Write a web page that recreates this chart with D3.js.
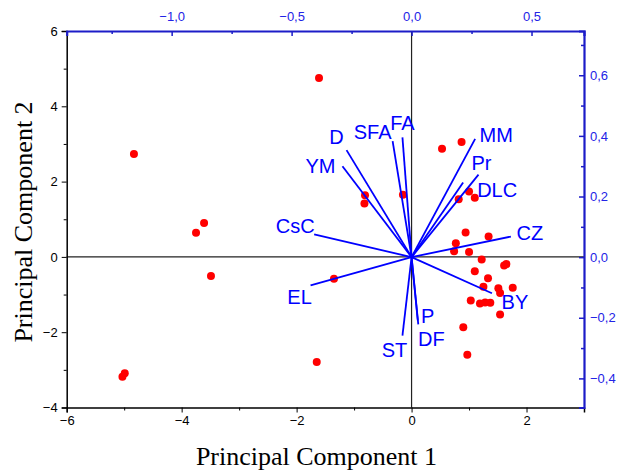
<!DOCTYPE html>
<html>
<head>
<meta charset="utf-8">
<script src="https://cdn.jsdelivr.net/npm/d3@7"></script>
<style>
  body { margin: 0; background: #fff; }
  .tick text { font-family: Arial, "Liberation Sans", sans-serif; font-size: 13px; }
</style>
</head>
<body>
<div id="chart"></div>
<script>
// scores (PC1, PC2)
const scoreX = [-4.83, -3.61, -3.75, -3.49, -4.99, -5.03, -1.61, 0.53, 0.87, -0.81, -0.82, -0.15,
  1.00, 0.82, 1.10, 0.94, 1.34, 0.77, 0.74, 1.00, 1.22, 1.61, 1.65, 1.10, 1.33, 1.25, 1.51, 1.76,
  1.54, 1.03, 1.19, 1.28, 1.37, 1.54, 0.90, 0.97, -1.35, -1.65];
const scoreY = [2.73, 0.90, 0.64, -0.51, -3.09, -3.18, 4.75, 2.87, 3.05, 1.64, 1.42, 1.65,
  1.74, 1.53, 1.57, 0.65, 0.54, 0.36, 0.15, 0.13, -0.07, -0.23, -0.19, -0.38, -0.57, -0.79, -0.83, -0.82,
  -0.96, -1.16, -1.24, -1.21, -1.22, -1.53, -1.87, -2.60, -0.58, -2.79];

// loadings
const varNames = ["D", "YM", "SFA", "FA", "CsC", "MM", "Pr", "DLC", "CZ", "EL", "BY", "ST", "P", "DF"];
const loadX = [-0.271, -0.288, -0.079, -0.038, -0.406, 0.265, 0.279, 0.215, 0.414, -0.421, 0.335, -0.038, 0.026, 0.028];
const loadY = [0.353, 0.300, 0.383, 0.395, 0.075, 0.390, 0.272, 0.246, 0.068, -0.093, -0.119, -0.259, -0.209, -0.222];

const xTicks = [-6, -4, -2, 0, 2];
const yTicks = [-4, -2, 0, 2, 4, 6];
const topTicks = [-1.0, -0.5, 0.0, 0.5];
const rightTicks = [-0.4, -0.2, 0.0, 0.2, 0.4, 0.6];

const width = 618, height = 472;
const margin = { top: 31, right: 34, bottom: 64.5, left: 66.7 };
const w = width - margin.left - margin.right;
const h = height - margin.top - margin.bottom;

const x = d3.scaleLinear().domain([-6, 3]).range([0, w]);
const y = d3.scaleLinear().domain([-4, 6]).range([h, 0]);
const xTop = d3.scaleLinear().domain([-1.4375, 0.71875]).range([0, w]);
const yRight = d3.scaleLinear().domain([-0.496, 0.746]).range([h, 0]);

const blueAxis = "#1c1cc8";
const blueText = "#2323e6";

const svg = d3.select("#chart").append("svg")
  .attr("width", width)
  .attr("height", height);

const g = svg.append("g")
  .attr("transform", `translate(${margin.left}, ${margin.top})`);

const comma = d3.format(".1f");
const fmtComma = (d) => comma(d).replace(".", ",");

// zero lines
g.append("line")
  .attr("x1", 0).attr("x2", w)
  .attr("y1", y(0)).attr("y2", y(0))
  .attr("stroke", "#222").attr("stroke-width", 1.2);
g.append("line")
  .attr("x1", x(0)).attr("x2", x(0))
  .attr("y1", 0).attr("y2", h)
  .attr("stroke", "#222").attr("stroke-width", 1.2);

// bottom axis
g.append("g")
  .attr("transform", `translate(0, ${h})`)
  .call(d3.axisBottom(x).tickValues(xTicks).tickSize(5).tickPadding(3));
g.append("g")
  .attr("transform", `translate(0, ${h})`)
  .call(d3.axisBottom(x).tickValues([-5, -3, -1, 1]).tickSize(3).tickFormat(""))
  .call((a) => a.select(".domain").remove());

// left axis
g.append("g")
  .call(d3.axisLeft(y).tickValues(yTicks).tickSize(5).tickPadding(4));
g.append("g")
  .call(d3.axisLeft(y).tickValues([-3, -1, 1, 3, 5]).tickSize(3).tickFormat(""))
  .call((a) => a.select(".domain").remove());

// top axis (ticks point inward)
const topAx = g.append("g")
  .call(d3.axisTop(xTop).tickValues(topTicks).tickSize(-5).tickPadding(10).tickFormat(fmtComma));
const topMinor = g.append("g")
  .call(d3.axisTop(xTop).tickValues([-1.25, -0.75, -0.25, 0.25]).tickSize(-3).tickFormat(""))
  .call((a) => a.select(".domain").remove());

// right axis (ticks point inward)
const rightAx = g.append("g")
  .attr("transform", `translate(${w}, 0)`)
  .call(d3.axisRight(yRight).tickValues(rightTicks).tickSize(-5).tickPadding(6).tickFormat(fmtComma));
const rightMinor = g.append("g")
  .attr("transform", `translate(${w}, 0)`)
  .call(d3.axisRight(yRight).tickValues([-0.3, -0.1, 0.1, 0.3, 0.5, 0.7]).tickSize(-3).tickFormat(""))
  .call((a) => a.select(".domain").remove());

g.selectAll(".domain").attr("stroke-width", 1.5);
[topAx, rightAx, topMinor, rightMinor].forEach((a) => {
  a.select(".domain").attr("stroke", blueAxis).attr("stroke-width", 2.2);
  a.selectAll(".tick line").attr("stroke", blueAxis).attr("stroke-width", 1.5);
  a.selectAll(".tick text").attr("fill", blueText);
});

// score points
const scores = scoreX.map((v, i) => ({ pc1: v, pc2: scoreY[i] }));
g.selectAll(".score")
  .data(scores)
  .enter()
  .append("circle")
  .attr("class", "score")
  .attr("cx", (d) => x(d.pc1))
  .attr("cy", (d) => y(d.pc2))
  .attr("r", 4)
  .attr("fill", "#ff0000");

// loading vectors
const loadings = varNames.map((n, i) => ({ name: n, lx: loadX[i], ly: loadY[i] }));
g.selectAll(".vec")
  .data(loadings)
  .enter()
  .append("line")
  .attr("class", "vec")
  .attr("x1", xTop(0))
  .attr("y1", yRight(0))
  .attr("x2", (d) => xTop(d.lx))
  .attr("y2", (d) => yRight(d.ly))
  .attr("stroke", "#0000ff")
  .attr("stroke-width", 1.8);

// label offsets relative to vector end (dx, dy to text centre)
const labelOffset = {
  D: [-10, -13], YM: [-22, 0], SFA: [-20, -9], FA: [0, -15], CsC: [-19, -9],
  MM: [21, -4], Pr: [3, -12], DLC: [34, 7], CZ: [19, -4], EL: [-11, 11],
  BY: [23, 9], ST: [-8, 14], P: [10, -5], DF: [13, 14]
};
g.selectAll(".vlabel")
  .data(loadings)
  .enter()
  .append("text")
  .attr("class", "vlabel")
  .attr("x", (d) => xTop(d.lx) + labelOffset[d.name][0])
  .attr("y", (d) => yRight(d.ly) + labelOffset[d.name][1])
  .attr("dy", "0.36em")
  .attr("text-anchor", "middle")
  .style("font-family", "Arial, 'Liberation Sans', sans-serif")
  .style("font-size", "20px")
  .attr("fill", "#0000ff")
  .text((d) => d.name);

// axis titles
svg.append("text")
  .attr("x", 316.5)
  .attr("y", 465)
  .attr("text-anchor", "middle")
  .style("font-family", "'Times New Roman', 'Liberation Serif', serif")
  .style("font-size", "26px")
  .text("Principal Component 1");

svg.append("text")
  .attr("transform", `translate(32, 222) rotate(-90)`)
  .attr("text-anchor", "middle")
  .style("font-family", "'Times New Roman', 'Liberation Serif', serif")
  .style("font-size", "26px")
  .text("Principal Component 2");
</script>
</body>
</html>
